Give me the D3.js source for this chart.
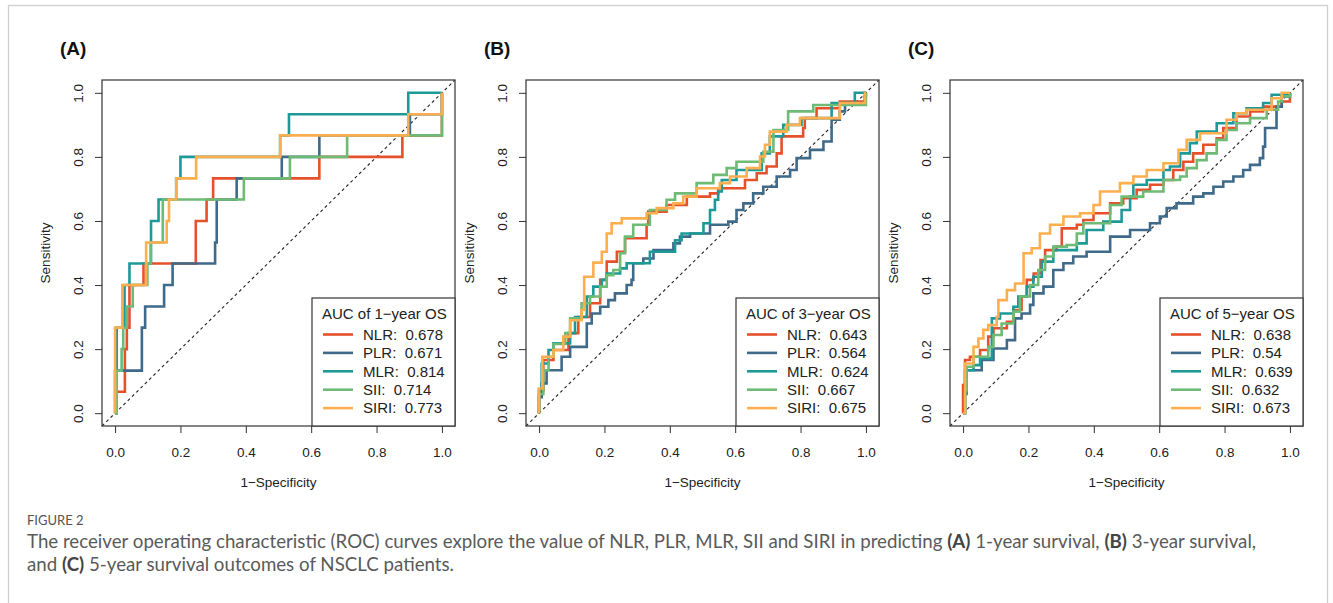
<!DOCTYPE html>
<html>
<head>
<meta charset="utf-8">
<script src="https://cdn.jsdelivr.net/npm/d3@7"></script>
<style>
  body { margin: 0; background: #fff; }
  svg text { font-family: "Liberation Sans", Arial, sans-serif; }
</style>
</head>
<body>
<script>
// ---- data ----
var panelLabels = ['(A)', '(B)', '(C)'];
var legendTitles = ['AUC of 1\u2212year OS', 'AUC of 3\u2212year OS', 'AUC of 5\u2212year OS'];
var seriesNames = ['NLR', 'PLR', 'MLR', 'SII', 'SIRI'];
var seriesColors = ['#E5512B', '#3F6A8A', '#1D9A98', '#6DBB74', '#FDAE4E'];
var aucA = ['0.678', '0.671', '0.814', '0.714', '0.773'];
var aucB = ['0.643', '0.564', '0.624', '0.667', '0.675'];
var aucC = ['0.638', '0.54', '0.639', '0.632', '0.673'];
var axisTicks = [0, 0.2, 0.4, 0.6, 0.8, 1.0];

// ROC steps: [1-specificity, sensitivity] where sensitivity rises
var rocA_NLR = [[0,0],[0.003,0.067],[0.03,0.2],[0.036,0.267],[0.044,0.4],[0.087,0.467],[0.247,0.6],[0.28,0.667],[0.3,0.733],[0.625,0.8],[0.879,0.867],[1,1]];
var rocA_PLR = [[0,0],[0,0.133],[0.082,0.267],[0.092,0.333],[0.15,0.4],[0.176,0.467],[0.306,0.533],[0.311,0.667],[0.372,0.733],[0.51,0.8],[0.625,0.867],[0.902,0.933],[1,1]];
var rocA_MLR = [[0,0],[0.005,0.267],[0.029,0.4],[0.044,0.467],[0.11,0.6],[0.133,0.667],[0.187,0.733],[0.2,0.8],[0.505,0.867],[0.532,0.933],[0.897,1],[1,1]];
var rocA_SII = [[0,0],[0.005,0.133],[0.02,0.2],[0.025,0.267],[0.036,0.333],[0.054,0.4],[0.099,0.467],[0.109,0.533],[0.146,0.667],[0.394,0.733],[0.535,0.8],[0.71,0.867],[1,1]];
var rocA_SIRI = [[0,0],[0,0.267],[0.022,0.4],[0.095,0.533],[0.158,0.6],[0.165,0.667],[0.187,0.733],[0.248,0.8],[0.505,0.867],[0.897,0.933],[1,1]];

var rocB_NLR = [[0,0],[0,0.072],[0.013,0.166],[0.044,0.197],[0.09,0.25],[0.12,0.3],[0.156,0.343],[0.187,0.416],[0.207,0.473],[0.238,0.504],[0.263,0.546],[0.329,0.588],[0.334,0.629],[0.39,0.65],[0.452,0.676],[0.523,0.686],[0.548,0.702],[0.63,0.728],[0.666,0.749],[0.696,0.77],[0.727,0.811],[0.742,0.864],[0.808,0.89],[0.813,0.921],[0.849,0.952],[0.92,0.973],[0.997,0.99],[1,1]];
var rocB_PLR = [[0,0],[0,0.05],[0.008,0.093],[0.023,0.134],[0.069,0.176],[0.095,0.207],[0.146,0.28],[0.161,0.311],[0.187,0.332],[0.212,0.353],[0.232,0.374],[0.268,0.4],[0.283,0.416],[0.288,0.468],[0.319,0.483],[0.35,0.509],[0.411,0.53],[0.431,0.551],[0.462,0.561],[0.523,0.588],[0.579,0.598],[0.604,0.634],[0.625,0.655],[0.655,0.686],[0.686,0.707],[0.727,0.739],[0.768,0.759],[0.788,0.796],[0.829,0.822],[0.87,0.848],[0.895,0.916],[0.92,0.942],[0.936,0.968],[0.997,1],[1,1]];
var rocB_MLR = [[0,0],[0,0.072],[0.008,0.155],[0.029,0.197],[0.044,0.218],[0.095,0.25],[0.11,0.3],[0.146,0.364],[0.166,0.395],[0.192,0.416],[0.207,0.436],[0.248,0.452],[0.268,0.468],[0.339,0.504],[0.416,0.54],[0.436,0.561],[0.503,0.593],[0.523,0.634],[0.538,0.666],[0.548,0.692],[0.559,0.728],[0.604,0.759],[0.681,0.811],[0.706,0.864],[0.747,0.9],[0.803,0.921],[0.895,0.968],[0.966,1],[1,1]];
var rocB_SII = [[0,0],[0,0.06],[0.013,0.134],[0.029,0.176],[0.044,0.216],[0.08,0.25],[0.095,0.296],[0.13,0.343],[0.156,0.364],[0.187,0.395],[0.207,0.431],[0.227,0.447],[0.248,0.499],[0.263,0.551],[0.288,0.588],[0.339,0.634],[0.39,0.666],[0.416,0.686],[0.482,0.718],[0.533,0.744],[0.574,0.765],[0.604,0.785],[0.686,0.816],[0.717,0.884],[0.762,0.942],[0.839,0.962],[1,1]];
var rocB_SIRI = [[0,0],[0,0.077],[0.01,0.176],[0.044,0.197],[0.074,0.239],[0.095,0.29],[0.13,0.322],[0.138,0.426],[0.166,0.47],[0.192,0.504],[0.207,0.561],[0.222,0.593],[0.253,0.608],[0.329,0.624],[0.36,0.64],[0.411,0.655],[0.441,0.676],[0.482,0.702],[0.553,0.718],[0.584,0.739],[0.635,0.765],[0.676,0.801],[0.691,0.838],[0.706,0.879],[0.757,0.9],[0.798,0.921],[0.92,0.968],[0.997,1],[1,1]];

var rocC_NLR = [[0,0],[0,0.088],[0.006,0.166],[0.021,0.176],[0.052,0.197],[0.077,0.239],[0.093,0.265],[0.134,0.285],[0.154,0.322],[0.179,0.364],[0.195,0.416],[0.216,0.436],[0.237,0.478],[0.251,0.509],[0.286,0.52],[0.302,0.577],[0.348,0.588],[0.368,0.603],[0.399,0.624],[0.45,0.655],[0.49,0.671],[0.531,0.697],[0.572,0.713],[0.613,0.728],[0.643,0.759],[0.674,0.785],[0.704,0.811],[0.735,0.838],[0.776,0.858],[0.796,0.89],[0.837,0.926],[0.878,0.942],[0.918,0.957],[0.975,0.973],[1,1]];
var rocC_PLR = [[0,0],[0.006,0.134],[0.057,0.166],[0.093,0.202],[0.134,0.228],[0.159,0.296],[0.179,0.311],[0.205,0.338],[0.215,0.374],[0.246,0.395],[0.276,0.447],[0.307,0.468],[0.337,0.489],[0.378,0.504],[0.45,0.551],[0.511,0.572],[0.572,0.593],[0.602,0.614],[0.623,0.64],[0.653,0.655],[0.704,0.676],[0.735,0.686],[0.766,0.707],[0.796,0.723],[0.827,0.739],[0.857,0.759],[0.878,0.775],[0.908,0.796],[0.918,0.832],[0.924,0.89],[0.959,0.957],[0.975,0.989],[1,1]];
var rocC_MLR = [[0,0],[0.006,0.06],[0.011,0.134],[0.032,0.15],[0.052,0.171],[0.088,0.296],[0.113,0.311],[0.154,0.332],[0.169,0.364],[0.195,0.395],[0.215,0.426],[0.241,0.473],[0.276,0.509],[0.348,0.53],[0.378,0.572],[0.429,0.598],[0.485,0.634],[0.511,0.676],[0.521,0.713],[0.562,0.728],[0.613,0.759],[0.633,0.77],[0.664,0.811],[0.694,0.843],[0.715,0.879],[0.776,0.905],[0.827,0.936],[0.867,0.952],[0.918,0.968],[0.944,0.994],[1,1]];
var rocC_SII = [[0,0],[0.006,0.072],[0.011,0.145],[0.032,0.176],[0.077,0.207],[0.093,0.244],[0.118,0.28],[0.154,0.317],[0.174,0.364],[0.205,0.4],[0.23,0.447],[0.251,0.489],[0.276,0.52],[0.317,0.525],[0.348,0.561],[0.368,0.593],[0.45,0.65],[0.485,0.676],[0.551,0.692],[0.613,0.728],[0.664,0.739],[0.684,0.765],[0.715,0.79],[0.745,0.811],[0.776,0.853],[0.806,0.884],[0.837,0.905],[0.878,0.921],[0.929,0.947],[0.964,0.973],[0.975,0.989],[1,1]];
var rocC_SIRI = [[0,0],[0.006,0.155],[0.032,0.207],[0.047,0.233],[0.062,0.26],[0.077,0.275],[0.103,0.301],[0.108,0.353],[0.134,0.384],[0.159,0.405],[0.185,0.499],[0.21,0.515],[0.235,0.561],[0.266,0.588],[0.307,0.614],[0.358,0.624],[0.399,0.65],[0.419,0.692],[0.48,0.718],[0.521,0.739],[0.562,0.759],[0.613,0.78],[0.659,0.822],[0.684,0.853],[0.725,0.874],[0.806,0.916],[0.837,0.936],[0.867,0.947],[0.944,0.983],[0.975,1],[1,1]];

var panelAuc = [aucA, aucB, aucC];
var panelCurves = [
    [rocA_NLR, rocA_PLR, rocA_MLR, rocA_SII, rocA_SIRI],
    [rocB_NLR, rocB_PLR, rocB_MLR, rocB_SII, rocB_SIRI],
    [rocC_NLR, rocC_PLR, rocC_MLR, rocC_SII, rocC_SIRI]
];

// ---- layout ----
var W = 1333, H = 603;
var frameLeft = [102, 526, 950],
    frameW = 353,
    frameTop = 80,
    frameH = 346;

var svg = d3.select('body').append('svg')
    .attr('width', W)
    .attr('height', H);

// outer light border of the figure box
svg.append('rect')
    .attr('x', 8.5).attr('y', 5.5)
    .attr('width', 1319).attr('height', 700)
    .attr('fill', 'none')
    .attr('stroke', '#cfcfcf')
    .attr('stroke-width', 1.3);

panelLabels.forEach(function (lab, p) {
    var L = frameLeft[p];
    var x = d3.scaleLinear().domain([-0.04, 1.04]).range([L, L + frameW]);
    var y = d3.scaleLinear().domain([-0.04, 1.04]).range([frameTop + frameH, frameTop]);
    var g = svg.append('g');

    // panel label
    g.append('text')
        .attr('x', L - 42).attr('y', 55)
        .attr('font-size', 19).attr('font-weight', 'bold')
        .attr('fill', '#111')
        .text(lab);

    // diagonal reference
    g.append('line')
        .attr('x1', x(-0.04)).attr('y1', y(-0.04))
        .attr('x2', x(1.04)).attr('y2', y(1.04))
        .attr('stroke', '#222').attr('stroke-width', 1.1)
        .attr('stroke-dasharray', '3,3');

    // curves
    var line = d3.line()
        .x(function (d) { return x(d[0]); })
        .y(function (d) { return y(d[1]); })
        .curve(d3.curveStepAfter);
    panelCurves[p].forEach(function (c, i) {
        g.append('path')
            .datum(c)
            .attr('d', line)
            .attr('fill', 'none')
            .attr('stroke', seriesColors[i])
            .attr('stroke-width', 2.6)
            .attr('stroke-linejoin', 'miter');
    });

    // frame
    g.append('rect')
        .attr('x', L).attr('y', frameTop)
        .attr('width', frameW).attr('height', frameH)
        .attr('fill', 'none')
        .attr('stroke', '#333').attr('stroke-width', 1.2);

    // axes
    var fmt = d3.format('.1f');
    var ax = g.append('g')
        .attr('transform', 'translate(0,' + (frameTop + frameH) + ')')
        .call(d3.axisBottom(x).tickValues(axisTicks).tickFormat(fmt).tickSize(7).tickSizeOuter(0));
    ax.select('.domain').remove();
    ax.selectAll('line').attr('stroke', '#333');
    ax.selectAll('text')
        .attr('y', 31).attr('dy', 0)
        .attr('font-size', 13.5).attr('fill', '#222')
        .style('font-family', '"Liberation Sans", Arial, sans-serif');

    var ay = g.append('g')
        .attr('transform', 'translate(' + L + ',0)')
        .call(d3.axisLeft(y).tickValues(axisTicks).tickFormat(fmt).tickSize(7).tickSizeOuter(0));
    ay.select('.domain').remove();
    ay.selectAll('line').attr('stroke', '#333');
    ay.selectAll('text')
        .attr('transform', 'rotate(-90)')
        .attr('x', 0).attr('y', -19).attr('dy', 0)
        .attr('text-anchor', 'middle')
        .attr('font-size', 13.5).attr('fill', '#222')
        .style('font-family', '"Liberation Sans", Arial, sans-serif');

    // axis titles
    g.append('text')
        .attr('x', L + frameW / 2).attr('y', 487)
        .attr('text-anchor', 'middle')
        .attr('font-size', 13.5).attr('fill', '#222')
        .text('1\u2212Specificity');
    g.append('text')
        .attr('transform', 'translate(' + (L - 52) + ',' + (frameTop + frameH / 2) + ') rotate(-90)')
        .attr('text-anchor', 'middle')
        .attr('font-size', 13.5).attr('fill', '#222')
        .text('Sensitivity');

    // legend
    var lx = L + 210, ly = 298;
    g.append('rect')
        .attr('x', lx).attr('y', ly)
        .attr('width', L + frameW - lx).attr('height', frameTop + frameH - ly)
        .attr('fill', '#fff')
        .attr('stroke', '#333').attr('stroke-width', 1.2);
    g.append('text')
        .attr('x', lx + 10).attr('y', ly + 20.5)
        .attr('font-size', 15).attr('fill', '#222')
        .text(legendTitles[p]);
    var items = g.selectAll('.leg')
        .data(seriesNames)
        .enter().append('g')
        .attr('class', 'leg')
        .attr('transform', function (d, i) {
            return 'translate(' + lx + ',' + (ly + 36.5 + i * 18.4) + ')';
        });
    items.append('line')
        .attr('x1', 11).attr('x2', 41)
        .attr('y1', 0).attr('y2', 0)
        .attr('stroke', function (d, i) { return seriesColors[i]; })
        .attr('stroke-width', 2.6);
    items.append('text')
        .attr('x', 51).attr('y', 5.3)
        .attr('font-size', 15).attr('fill', '#222')
        .style('white-space', 'pre')
        .text(function (d, i) { return d + ':  ' + panelAuc[p][i]; });
});

// caption
var cap = svg.append('g').style('font-family', 'Lato, "Open Sans", sans-serif');
cap.append('text')
    .attr('x', 27).attr('y', 525)
    .attr('font-size', 13).attr('fill', '#555')
    .style('font-family', 'Lato, "Open Sans", sans-serif')
    .text('FIGURE 2');

var capLines = [
    [['The receiver operating characteristic (ROC) curves explore the value of NLR, PLR, MLR, SII and SIRI in predicting ', false],
     ['(A)', true], [' 1-year survival, ', false], ['(B)', true], [' 3-year survival,', false]],
    [['and ', false], ['(C)', true], [' 5-year survival outcomes of NSCLC patients.', false]]
];
var capTexts = capLines.map(function (parts, li) {
    var t = cap.append('text')
        .attr('x', 27).attr('y', 548 + li * 23)
        .attr('font-size', 16).attr('fill', '#5a5a5a')
        .style('font-family', 'Lato, "Open Sans", sans-serif')
        .style('white-space', 'pre');
    parts.forEach(function (pt) {
        t.append('tspan')
            .attr('font-weight', pt[1] ? 'bold' : 'normal')
            .attr('fill', pt[1] ? '#444' : '#5a5a5a')
            .text(pt[0]);
    });
    return t;
});
// fit line one to its width in the reference
var len = capTexts[0].node().getComputedTextLength();
var fs = 16 * 1230 / len;
capTexts.forEach(function (t) { t.attr('font-size', fs); });
</script>
</body>
</html>
